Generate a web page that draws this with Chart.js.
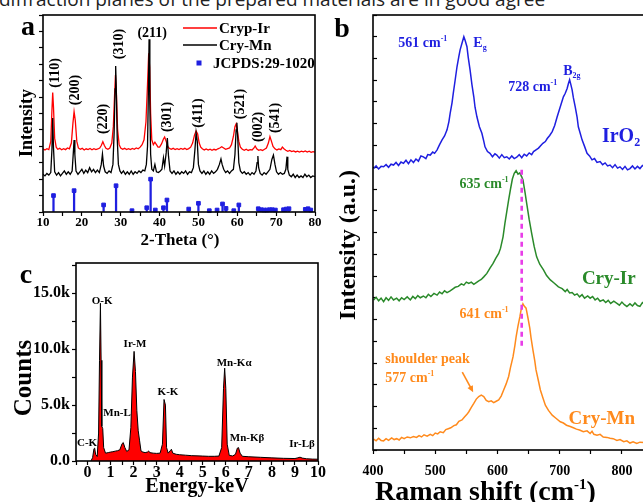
<!DOCTYPE html>
<html>
<head>
<meta charset="utf-8">
<script src="https://cdn.jsdelivr.net/npm/chart.js@4.4.1/dist/chart.umd.min.js"></script>
<style>
  html, body { margin: 0; padding: 0; background: #fff; width: 643px; height: 502px; overflow: hidden; position: relative; }
  .panel { position: absolute; }
  #caption {
    position: absolute; left: -1px; top: -10px; white-space: nowrap;
    font: 19px/19px "Open Sans", sans-serif; color: #222;
  }
</style>
</head>
<body>
<div id="caption">diffraction planes of the prepared materials are in good agree</div>
<div class="panel" style="left:0;top:0;width:330px;height:260px"><canvas id="xrd"></canvas></div>
<div class="panel" style="left:0;top:250px;width:330px;height:252px"><canvas id="eds"></canvas></div>
<div class="panel" style="left:330px;top:0;width:340px;height:502px"><canvas id="raman"></canvas></div>
<script>
// ---- panel a: XRD (intensity in stacked arbitrary units) ----
const irTheta = [10.0, 10.5, 11.0, 11.5, 12.0, 12.3, 12.5, 12.7, 13.0, 13.4, 13.8, 14.3, 14.8, 15.3, 15.8, 16.3, 16.8, 17.3, 17.7, 18.0, 18.3, 18.7, 19.1, 19.6, 20.1, 20.6, 21.1, 21.6, 22.1, 22.6, 23.1, 23.6, 24.1, 24.6, 25.0, 25.4, 25.8, 26.2, 26.7, 27.2, 27.7, 28.1, 28.4, 28.65, 28.9, 29.2, 29.6, 30.0, 30.5, 31.0, 31.5, 32.0, 32.5, 33.0, 33.5, 34.0, 34.5, 35.0, 35.5, 36.0, 36.5, 36.9, 37.2, 37.45, 37.7, 38.0, 38.4, 38.8, 39.2, 39.6, 40.0, 40.5, 41.0, 41.3, 41.7, 42.1, 42.5, 43.0, 43.5, 44.0, 44.5, 45.0, 45.5, 46.0, 46.5, 47.0, 47.5, 48.0, 48.5, 49.0, 49.4, 49.8, 50.2, 50.6, 51.0, 51.5, 52.0, 52.5, 53.0, 53.5, 54.0, 54.5, 55.0, 55.5, 56.0, 56.5, 57.0, 57.5, 58.0, 58.5, 59.0, 59.4, 59.7, 60.0, 60.4, 60.8, 61.3, 61.8, 62.3, 62.8, 63.3, 63.8, 64.3, 64.6, 65.0, 65.5, 66.0, 66.5, 67.0, 67.5, 68.0, 68.4, 68.8, 69.2, 69.7, 70.2, 70.7, 71.2, 71.6, 72.0, 72.5, 73.0, 73.5, 74.0, 74.5, 75.0, 75.5, 76.0, 76.5, 77.0, 77.5, 78.0, 78.5, 79.0, 79.5, 80.0]
const irCounts = [3.85, 3.78, 3.86, 3.80, 4.30, 6.20, 7.27, 6.40, 4.50, 3.95, 3.82, 3.88, 3.79, 3.86, 3.80, 3.90, 3.85, 4.20, 5.40, 6.11, 5.60, 4.30, 3.90, 3.82, 3.88, 3.78, 3.85, 3.80, 3.87, 3.79, 3.86, 3.80, 3.84, 3.90, 4.05, 4.28, 4.05, 3.88, 3.82, 3.90, 4.20, 5.20, 7.00, 8.35, 7.20, 5.00, 4.10, 3.90, 3.82, 3.88, 3.80, 3.86, 3.80, 3.87, 3.82, 3.90, 3.85, 3.95, 4.10, 4.40, 5.50, 7.80, 9.67, 8.80, 6.00, 4.40, 4.10, 4.25, 4.10, 3.95, 3.95, 4.15, 4.45, 4.57, 4.30, 4.00, 3.88, 3.82, 3.88, 3.80, 3.86, 3.80, 3.87, 3.82, 3.88, 3.80, 3.86, 3.95, 4.20, 4.70, 4.93, 4.75, 4.20, 3.95, 3.85, 3.78, 3.84, 3.77, 3.83, 3.76, 3.82, 3.78, 3.85, 3.90, 3.98, 3.90, 3.82, 3.86, 3.90, 4.10, 4.60, 5.20, 5.36, 5.00, 4.30, 3.95, 3.82, 3.76, 3.82, 3.75, 3.80, 3.78, 3.90, 4.02, 3.85, 3.76, 3.80, 3.75, 3.82, 3.90, 4.20, 4.59, 4.30, 4.00, 3.85, 3.78, 3.84, 3.80, 3.95, 3.85, 3.76, 3.70, 3.75, 3.68, 3.72, 3.66, 3.71, 3.65, 3.70, 3.66, 3.72, 3.65, 3.70, 3.64, 3.68, 3.65]

const mnTheta = [10.0, 10.5, 11.0, 11.5, 12.0, 12.3, 12.5, 12.7, 13.0, 13.5, 14.0, 14.5, 15.0, 15.5, 16.0, 16.5, 17.0, 17.5, 17.8, 18.0, 18.2, 18.5, 19.0, 19.5, 20.0, 20.5, 21.0, 21.5, 22.0, 22.5, 23.0, 23.5, 24.0, 24.5, 25.0, 25.3, 25.6, 26.0, 26.5, 27.0, 27.5, 28.0, 28.3, 28.55, 28.7, 28.85, 29.1, 29.4, 29.8, 30.2, 30.7, 31.2, 31.7, 32.2, 32.7, 33.2, 33.7, 34.2, 34.7, 35.2, 35.7, 36.2, 36.6, 36.9, 37.1, 37.3, 37.5, 37.7, 38.0, 38.4, 38.8, 39.2, 39.7, 40.2, 40.6, 41.0, 41.3, 41.7, 42.0, 42.3, 42.7, 43.2, 43.7, 44.2, 44.7, 45.2, 45.7, 46.2, 46.7, 47.2, 47.7, 48.2, 48.7, 49.1, 49.4, 49.7, 50.0, 50.4, 50.9, 51.4, 51.9, 52.4, 52.9, 53.4, 53.9, 54.4, 54.9, 55.4, 55.8, 56.1, 56.5, 57.0, 57.5, 58.0, 58.5, 59.0, 59.4, 59.7, 59.9, 60.1, 60.4, 60.8, 61.3, 61.8, 62.3, 62.8, 63.3, 63.8, 64.3, 64.8, 65.1, 65.3, 65.5, 65.9, 66.4, 66.9, 67.4, 67.9, 68.4, 68.9, 69.3, 69.7, 70.1, 70.6, 71.1, 71.6, 72.1, 72.5, 72.8, 73.0, 73.4, 73.9, 74.4, 74.9, 75.4, 75.9, 76.4, 76.9, 77.4, 77.9, 78.4, 78.9, 79.4, 80.0]
const mnCounts = [2.30, 2.20, 2.35, 2.25, 2.40, 3.80, 5.73, 3.90, 2.45, 2.25, 2.40, 2.20, 2.35, 2.50, 2.30, 2.45, 2.30, 2.50, 3.60, 4.39, 3.50, 2.50, 2.30, 2.45, 2.60, 2.35, 2.55, 2.40, 2.70, 2.45, 2.60, 2.40, 2.55, 2.40, 2.90, 3.53, 2.80, 2.45, 2.35, 2.50, 2.40, 2.90, 4.80, 7.50, 8.89, 7.60, 4.50, 2.90, 2.50, 2.35, 2.50, 2.30, 2.45, 2.30, 2.50, 2.30, 2.45, 2.35, 2.50, 2.40, 2.55, 2.50, 2.90, 4.00, 7.00, 10.52, 6.50, 3.50, 2.60, 2.50, 2.90, 2.45, 2.40, 2.50, 2.60, 3.30, 2.80, 3.60, 4.51, 3.40, 2.50, 2.35, 2.50, 2.30, 2.45, 2.30, 2.45, 2.35, 2.50, 2.30, 2.45, 2.40, 2.70, 3.80, 4.83, 4.30, 2.90, 2.50, 2.35, 2.50, 2.30, 2.45, 2.30, 2.50, 2.35, 2.45, 2.60, 2.90, 3.23, 2.90, 2.60, 2.40, 2.50, 2.35, 2.50, 2.60, 3.50, 5.00, 5.44, 4.60, 3.00, 2.50, 2.35, 2.45, 2.30, 2.40, 2.25, 2.40, 2.30, 2.50, 3.00, 3.41, 2.70, 2.35, 2.25, 2.40, 2.30, 2.45, 2.60, 3.20, 3.47, 2.90, 2.45, 2.30, 2.40, 2.30, 2.35, 2.60, 3.37, 2.60, 2.25, 2.15, 2.30, 2.10, 2.25, 2.10, 2.20, 2.10, 2.30, 2.15, 2.25, 2.10, 2.20, 2.15]

const jcpdsTheta = [12.7, 18.0, 25.6, 28.8, 32.9, 36.7, 37.7, 38.9, 41.0, 41.9, 47.5, 50.0, 52.8, 54.8, 56.2, 57.1, 59.1, 60.4, 65.4, 66.2, 66.9, 67.6, 68.3, 69.0, 69.8, 71.9, 72.6, 73.3, 77.5, 78.2, 78.9]
const jcpdsIntensity = [1.0, 1.3, 0.43, 1.6, 0.08, 0.26, 2.0, 0.12, 0.26, 0.73, 0.18, 0.53, 0.08, 0.12, 0.49, 0.22, 0.08, 0.43, 0.2, 0.14, 0.12, 0.12, 0.14, 0.14, 0.12, 0.14, 0.18, 0.2, 0.16, 0.2, 0.12]

const hklText = ['(110)', '(200)', '(220)', '(310)', '(211)', '(301)', '(411)', '(521)', '(002)', '(541)']
const hklTheta = [12.84, 17.99, 25.2, 29.3, 38.1, 41.7, 49.7, 60.5, 65.17, 69.55]
const hklLevel = [8.47, 7.43, 5.67, 10.23, 10.93, 5.79, 6.03, 6.58, 5.18, 5.73]

// ---- panel b: Raman ----
const iro2Shift = [401, 405, 409, 413, 417, 421, 425, 429, 433, 437, 441, 445, 449, 453, 457, 461, 465, 469, 473, 477, 481, 485, 488, 492, 496, 499, 503, 507, 511, 515, 519, 522, 524, 527, 529, 532, 535, 538, 540, 543, 546, 548, 551, 553, 556, 559, 562, 564, 567, 571, 575, 578, 580, 584, 588, 592, 596, 599, 603, 607, 611, 615, 619, 623, 627, 631, 635, 639, 643, 647, 651, 655, 658, 662, 666, 669, 673, 677, 680, 684, 688, 692, 696, 699, 701, 704, 706, 709, 712, 714, 716, 718, 720, 722, 725, 728, 730, 733, 736, 740, 744, 748, 752, 756, 760, 765, 769, 773, 777, 781, 785, 789, 793, 797, 801, 805, 809, 813, 817, 821, 825, 829, 833, 837, 841, 845, 850]
const iro2Intensity = [64.7, 65.3, 64.6, 65.2, 65.1, 65.6, 65.0, 65.7, 65.5, 66.1, 65.4, 66.2, 65.9, 66.6, 65.8, 66.7, 66.1, 66.9, 66.4, 67.6, 67.4, 67.0, 67.9, 67.8, 68.5, 68.2, 69.0, 70.2, 71.3, 72.2, 73.6, 75.5, 77.4, 79.8, 82.0, 85.0, 88.1, 90.5, 92.0, 93.5, 95.0, 94.2, 92.7, 90.3, 87.4, 84.0, 81.2, 78.8, 76.6, 74.3, 72.8, 71.0, 69.7, 68.6, 68.2, 67.4, 68.1, 67.8, 67.1, 67.9, 67.2, 67.4, 66.9, 67.6, 67.0, 67.3, 67.9, 67.2, 68.0, 67.6, 68.3, 67.9, 68.6, 69.0, 69.4, 69.9, 70.5, 70.9, 71.6, 72.3, 73.2, 74.6, 76.6, 78.0, 78.9, 80.3, 81.2, 82.0, 83.1, 84.2, 85.1, 84.0, 82.8, 81.0, 78.9, 76.5, 74.3, 72.8, 71.3, 69.8, 68.2, 67.6, 66.7, 67.0, 66.1, 66.3, 65.6, 66.0, 65.3, 65.5, 64.9, 65.6, 64.8, 65.1, 64.5, 65.2, 64.4, 64.7, 65.3, 64.6, 65.2, 64.7, 65.4, 65.0, 64.8, 65.3, 64.9]

const cryIrShift = [401, 405, 409, 413, 417, 421, 425, 429, 433, 438, 442, 446, 450, 455, 460, 464, 468, 472, 476, 481, 485, 489, 493, 498, 503, 507, 511, 515, 519, 524, 528, 532, 537, 542, 546, 550, 554, 558, 562, 566, 570, 574, 578, 583, 588, 593, 597, 602, 605, 609, 612, 615, 618, 621, 624, 627, 630, 633, 636, 639, 641, 644, 647, 651, 655, 659, 663, 668, 674, 679, 685, 691, 698, 704, 709, 712, 716, 720, 724, 728, 732, 736, 740, 745, 749, 753, 757, 761, 765, 770, 774, 778, 782, 787, 792, 796, 800, 804, 808, 813, 817, 821, 825, 829, 833, 837, 842, 846, 850]
const cryIrIntensity = [34.5, 35.1, 34.3, 34.9, 34.1, 35.0, 34.4, 35.2, 34.5, 34.9, 34.3, 35.0, 34.6, 35.2, 34.5, 35.3, 34.8, 35.5, 35.0, 35.4, 35.0, 35.8, 35.3, 36.0, 35.6, 36.3, 35.9, 36.6, 36.2, 36.6, 37.0, 37.4, 37.6, 38.2, 37.9, 38.6, 38.3, 38.6, 38.1, 38.5, 38.9, 39.2, 39.8, 40.6, 41.8, 42.9, 44.0, 45.2, 46.4, 49.0, 52.1, 54.8, 57.5, 60.0, 62.3, 63.6, 64.2, 63.4, 63.7, 62.8, 62.1, 59.5, 56.7, 53.0, 49.8, 46.8, 44.4, 42.7, 41.4, 40.1, 39.1, 38.4, 37.5, 37.1, 36.4, 36.9, 36.1, 36.2, 35.6, 35.9, 35.2, 35.7, 34.9, 35.4, 34.9, 35.3, 34.5, 34.9, 34.2, 34.5, 33.9, 34.4, 33.7, 34.2, 33.7, 33.3, 34.0, 33.4, 33.0, 33.6, 33.1, 33.8, 33.2, 33.0, 33.9, 33.4, 33.7, 33.2, 33.6]

const cryMnShift = [401, 405, 409, 413, 417, 421, 425, 430, 434, 438, 442, 446, 450, 455, 460, 465, 470, 474, 478, 482, 487, 492, 496, 500, 504, 508, 513, 517, 521, 525, 530, 534, 538, 543, 547, 551, 554, 558, 562, 566, 570, 574, 578, 582, 586, 590, 594, 598, 602, 606, 610, 614, 618, 621, 625, 628, 630, 633, 636, 638, 641, 643, 646, 649, 652, 654, 657, 660, 662, 666, 669, 673, 677, 682, 688, 694, 701, 706, 711, 717, 722, 727, 732, 738, 744, 749, 752, 755, 760, 765, 770, 776, 781, 786, 792, 797, 803, 808, 813, 818, 824, 829, 835, 840, 845, 850]
const cryMnIntensity = [2.5, 2.1, 2.7, 2.2, 2.1, 2.6, 2.2, 2.8, 2.4, 2.6, 2.3, 2.9, 2.6, 3.0, 2.8, 3.1, 2.9, 3.3, 3.0, 3.5, 3.2, 3.6, 3.3, 3.9, 3.7, 4.2, 4.0, 4.7, 4.9, 5.1, 5.6, 5.8, 6.6, 6.9, 7.6, 8.2, 8.8, 9.8, 10.7, 11.7, 12.3, 12.6, 12.3, 11.4, 11.1, 11.3, 10.9, 11.2, 11.5, 12.4, 13.8, 15.2, 16.9, 19.0, 21.4, 24.0, 26.0, 28.5, 30.6, 32.2, 33.6, 33.1, 32.6, 30.4, 28.0, 25.8, 23.0, 20.5, 18.4, 15.8, 13.8, 12.0, 10.3, 9.1, 8.0, 7.3, 6.5, 6.2, 5.7, 5.4, 5.1, 4.8, 4.6, 4.2, 4.4, 3.8, 4.3, 3.6, 3.4, 3.6, 3.0, 2.9, 2.7, 2.6, 2.2, 2.4, 1.9, 2.1, 1.6, 1.9, 1.5, 1.8, 1.7, 1.4, 1.7, 1.5]

const peakMarkShift = [639, 639]
const peakMarkLevel = [64.4, 23.7]

// ---- panel c: EDS ----
const edsEnergy = [0.15, 0.22, 0.28, 0.31, 0.35, 0.42, 0.48, 0.52, 0.56, 0.59, 0.62, 0.66, 0.70, 0.78, 0.90, 1.00, 1.10, 1.20, 1.30, 1.40, 1.50, 1.55, 1.62, 1.70, 1.80, 1.88, 1.95, 2.02, 2.08, 2.14, 2.20, 2.26, 2.32, 2.40, 2.50, 2.60, 2.65, 2.70, 2.85, 3.00, 3.15, 3.25, 3.32, 3.38, 3.43, 3.50, 3.58, 3.64, 3.70, 3.85, 4.00, 4.25, 4.50, 4.75, 5.00, 5.25, 5.50, 5.70, 5.82, 5.90, 5.95, 6.00, 6.06, 6.15, 6.30, 6.42, 6.50, 6.55, 6.62, 6.72, 7.00, 7.50, 8.00, 8.50, 9.00, 9.12, 9.22, 9.32, 9.50, 9.75, 10.0]
const edsCounts = [0, 300, 1100, 1150, 600, 400, 2500, 9000, 14100, 9000, 3100, 2900, 1200, 700, 750, 800, 830, 880, 920, 1000, 1550, 1650, 1200, 850, 1000, 3000, 7500, 9800, 8000, 4500, 2700, 1800, 900, 800, 750, 800, 900, 750, 700, 680, 700, 1500, 5500, 5000, 1200, 700, 900, 1050, 700, 600, 560, 520, 480, 460, 440, 420, 420, 440, 1200, 6500, 8300, 6500, 1500, 500, 450, 600, 1150, 1200, 700, 420, 380, 330, 280, 240, 220, 280, 340, 260, 200, 170, 160]
const edsCountTicks = [0, 2500, 5000, 7500, 10000, 12500, 15000, 17500]

const edsLines = ['O-K', 'Ir-M', 'Mn-L', 'C-K', 'K-K', 'Mn-K\u03b1', 'Mn-K\u03b2', 'Ir-L\u03b2']
const edsLineEnergy = [0.63, 2.06, 1.28, -0.02, 3.49, 6.36, 6.92, 9.31]
const edsLineCounts = [14400, 10550, 4380, 1700, 6260, 8860, 2150, 1610]

// ---- helpers ----
const FONT = '"Liberation Serif", "Times New Roman", serif'
Chart.defaults.font.family = FONT
Chart.defaults.font.weight = 'bold'
Chart.defaults.color = '#000'

const BLUE = '#1f1fe0'
const GREEN = '#2a8a2a'
const ORANGE = '#ff8a1c'

const pairs = (xs, ys) => xs.map((x, i) => ({ x, y: ys[i] }))

// parts: [text, size, dy] drawn on one baseline; (x, y) is the middle of the main glyphs
function rich(ctx, parts, x, y, align) {
  let w = 0
  parts.forEach(p => { ctx.font = `bold ${p[1]}px ${FONT}`; w += ctx.measureText(p[0]).width })
  let cx = align === 'center' ? x - w / 2 : align === 'right' ? x - w : x
  const base = y + parts[0][1] * 0.33
  ctx.textAlign = 'left'
  ctx.textBaseline = 'alphabetic'
  parts.forEach(p => {
    ctx.font = `bold ${p[1]}px ${FONT}`
    ctx.fillText(p[0], cx, base + (p[2] || 0))
    cx += ctx.measureText(p[0]).width
  })
}

// frame + text notes; items with data:true are placed through the scales
function notes(items, extra) {
  return {
    id: 'notes',
    afterDatasetsDraw(chart) {
      const { ctx, chartArea: a, scales } = chart
      ctx.save()
      ctx.strokeStyle = '#000'
      ctx.lineWidth = 1.6
      ctx.strokeRect(a.left, a.top, a.right - a.left, a.bottom - a.top)
      items.forEach(it => {
        const px = it.data ? scales.x.getPixelForValue(it.at[0]) : it.at[0]
        const py = it.data ? scales.y.getPixelForValue(it.at[1]) : it.at[1]
        ctx.save()
        ctx.fillStyle = it.color || '#000'
        ctx.translate(px, py)
        if (it.rotate) ctx.rotate(-Math.PI / 2)
        rich(ctx, it.parts, 0, 0, it.align || 'center')
        ctx.restore()
      })
      if (extra) extra(chart)
      ctx.restore()
    }
  }
}

const gridOut = (len) => ({ drawOnChartArea: false, drawTicks: true, tickLength: len, color: '#000', tickWidth: 1.2 })

const base = {
  responsive: true,
  maintainAspectRatio: false,
  animation: false,
  events: [],
  plugins: { legend: { display: false }, tooltip: { enabled: false } },
  elements: { point: { radius: 0 }, line: { tension: 0 } }
}

// ---- panel a ----
const xrdNotes = [
  { at: [28, 26], parts: [['a', 28]] },
  { at: [26, 123], parts: [['Intensity', 18]], rotate: true },
  { at: [180, 239], parts: [['2-Theta (\u00b0)', 17]] },
  { at: [219, 28], parts: [['Cryp-Ir', 15]], align: 'left' },
  { at: [219, 45], parts: [['Cry-Mn', 15]], align: 'left' },
  { at: [213, 63], parts: [['JCPDS:29-1020', 15]], align: 'left' }
]
hklText.forEach((t, i) => {
  xrdNotes.push({ data: true, at: [hklTheta[i], hklLevel[i]], parts: [[t, 14]], rotate: t !== '(211)' })
})

new Chart(document.getElementById('xrd'), {
  type: 'line',
  data: {
    datasets: [
      { type: 'bar', data: pairs(jcpdsTheta, jcpdsIntensity), backgroundColor: BLUE, barThickness: 1.6, order: 0 },
      { data: pairs(jcpdsTheta, jcpdsIntensity), showLine: false, pointStyle: 'rect', pointRadius: 2.6,
        pointBackgroundColor: BLUE, pointBorderColor: BLUE, clip: 4, order: 0 },
      { data: pairs(mnTheta, mnCounts), borderColor: '#000', borderWidth: 1.3, order: 1 },
      { data: pairs(irTheta, irCounts), borderColor: '#ff0000', borderWidth: 1.3, order: 2 }
    ]
  },
  options: {
    ...base,
    layout: { padding: { left: 33, top: 15, right: 15, bottom: 28 } },
    scales: {
      x: {
        type: 'linear', min: 10, max: 80, offset: false,
        border: { display: false },
        grid: { ...gridOut(4), offset: false },
        ticks: { stepSize: 5, autoSkip: false, maxRotation: 0, padding: -1,
          font: { size: 13, weight: 'bold' }, callback: v => (v % 10 === 0 ? String(v) : '') },
        afterFit: s => { s.height = 20 }
      },
      y: {
        min: 0, max: 12,
        border: { display: false },
        grid: gridOut(4),
        ticks: { stepSize: 1, display: false, autoSkip: false },
        afterFit: s => { s.width = 10 }
      }
    }
  },
  plugins: [notes(xrdNotes, chart => {
    const ctx = chart.ctx
    ctx.lineWidth = 1.5
    ctx.strokeStyle = '#ff0000'
    ctx.beginPath(); ctx.moveTo(183, 28); ctx.lineTo(217, 28); ctx.stroke()
    ctx.strokeStyle = '#000'
    ctx.beginPath(); ctx.moveTo(183, 45); ctx.lineTo(217, 45); ctx.stroke()
    ctx.fillStyle = BLUE
    ctx.fillRect(196.5, 60.5, 5, 5)
  })]
})

// ---- panel c ----
const edsNotes = [
  { at: [26, 24], parts: [['c', 28]] },
  { at: [23, 128], parts: [['Counts', 25]], rotate: true },
  { at: [197, 235], parts: [['Energy-keV', 20]] }
]
edsLines.forEach((t, i) => {
  edsNotes.push({ data: true, at: [edsLineEnergy[i], edsLineCounts[i]], parts: [[t, 11]] })
})

new Chart(document.getElementById('eds'), {
  type: 'line',
  data: {
    datasets: [{
      data: pairs(edsEnergy, edsCounts),
      borderColor: '#000', borderWidth: 1, backgroundColor: '#ff0000', fill: 'origin'
    }]
  },
  options: {
    ...base,
    layout: { padding: { left: 0, top: 13, right: 12, bottom: 16 } },
    scales: {
      x: {
        type: 'linear', min: -0.5, max: 10,
        border: { display: false },
        grid: gridOut(4),
        ticks: { stepSize: 0.5, autoSkip: false, maxRotation: 0, padding: -2,
          font: { size: 16, weight: 'bold' }, callback: v => (Number.isInteger(v) ? String(v) : '') },
        afterFit: s => { s.height = 25 }
      },
      y: {
        min: 0, max: 17700,
        border: { display: false },
        grid: gridOut(4),
        afterBuildTicks: s => { s.ticks = edsCountTicks.map(value => ({ value })) },
        ticks: { autoSkip: false, padding: 2, font: { size: 16, weight: 'bold' },
          callback: v => (v % 5000 === 0 ? (v === 0 ? '0.0' : (v / 1000).toFixed(1) + 'k') : '') },
        afterFit: s => { s.width = 76 }
      }
    }
  },
  plugins: [notes(edsNotes)]
})

// ---- panel b ----
const ramanNotes = [
  { at: [12, 28], parts: [['b', 28]] },
  { at: [17, 245], parts: [['Intensity (a.u.)', 24]], rotate: true },
  { at: [45, 491], parts: [['Raman shift (cm', 28], ['-1', 15, -11], [')', 28]], align: 'left' },
  { data: true, at: [440.6, 93.8], parts: [['561 cm', 14], ['-1', 8, -6]], color: BLUE, align: 'left' },
  { data: true, at: [561.2, 93.8], parts: [['E', 14], ['g', 8, 3]], color: BLUE, align: 'left' },
  { data: true, at: [705.7, 87.2], parts: [['B', 14], ['2g', 8, 3]], color: BLUE, align: 'left' },
  { data: true, at: [617.3, 83.7], parts: [['728 cm', 14], ['-1', 8, -6]], color: BLUE, align: 'left' },
  { data: true, at: [767.9, 72.4], parts: [['IrO', 20], ['2', 12, 4]], color: BLUE, align: 'left' },
  { data: true, at: [539.1, 61.4], parts: [['635 cm', 14], ['-1', 8, -6]], color: GREEN, align: 'left' },
  { data: true, at: [735.7, 39.5], parts: [['Cry-Ir', 19]], color: GREEN, align: 'left' },
  { data: true, at: [539.1, 31.5], parts: [['641 cm', 14], ['-1', 8, -6]], color: ORANGE, align: 'left' },
  { data: true, at: [419.8, 21.1], parts: [['shoulder peak', 14]], color: ORANGE, align: 'left' },
  { data: true, at: [419.8, 16.6], parts: [['577 cm', 14], ['-1', 8, -6]], color: ORANGE, align: 'left' },
  { data: true, at: [714.3, 7.4], parts: [['Cry-Mn', 19]], color: ORANGE, align: 'left' }
]

new Chart(document.getElementById('raman'), {
  type: 'line',
  data: {
    datasets: [
      { data: pairs(peakMarkShift, peakMarkLevel), borderColor: '#e83ee8', borderWidth: 2.6, borderDash: [5, 4], order: 0 },
      { data: pairs(iro2Shift, iro2Intensity), borderColor: BLUE, borderWidth: 1.5, order: 1 },
      { data: pairs(cryIrShift, cryIrIntensity), borderColor: GREEN, borderWidth: 1.5, order: 1 },
      { data: pairs(cryMnShift, cryMnIntensity), borderColor: ORANGE, borderWidth: 1.5, order: 1 }
    ]
  },
  options: {
    ...base,
    layout: { padding: { left: 40, top: 15, right: 17, bottom: 22 } },
    scales: {
      x: {
        type: 'linear', min: 400, max: 850,
        border: { display: false },
        grid: gridOut(4),
        ticks: { stepSize: 50, autoSkip: false, maxRotation: 0, padding: 9,
          font: { size: 14, weight: 'bold' }, callback: v => (v % 100 === 0 ? String(v) : '') },
        afterFit: s => { s.height = 30 }
      },
      y: {
        min: 0, max: 100,
        border: { display: false },
        grid: gridOut(-4),
        ticks: { stepSize: 5, display: false, autoSkip: false },
        afterFit: s => { s.width = 3 }
      }
    }
  },
  plugins: [notes(ramanNotes, chart => {
    const { ctx, scales: { x, y } } = chart
    const x0 = x.getPixelForValue(543.5), y0 = y.getPixelForValue(17.9)
    const x1 = x.getPixelForValue(561), y1 = y.getPixelForValue(13.3)
    const ang = Math.atan2(y1 - y0, x1 - x0)
    ctx.strokeStyle = ORANGE
    ctx.fillStyle = ORANGE
    ctx.lineWidth = 1.6
    ctx.beginPath(); ctx.moveTo(x0, y0); ctx.lineTo(x1 - 4 * Math.cos(ang), y1 - 4 * Math.sin(ang)); ctx.stroke()
    ctx.beginPath()
    ctx.moveTo(x1, y1)
    ctx.lineTo(x1 - 7 * Math.cos(ang - 0.45), y1 - 7 * Math.sin(ang - 0.45))
    ctx.lineTo(x1 - 7 * Math.cos(ang + 0.45), y1 - 7 * Math.sin(ang + 0.45))
    ctx.closePath(); ctx.fill()
  })]
})
</script>
</body>
</html>
